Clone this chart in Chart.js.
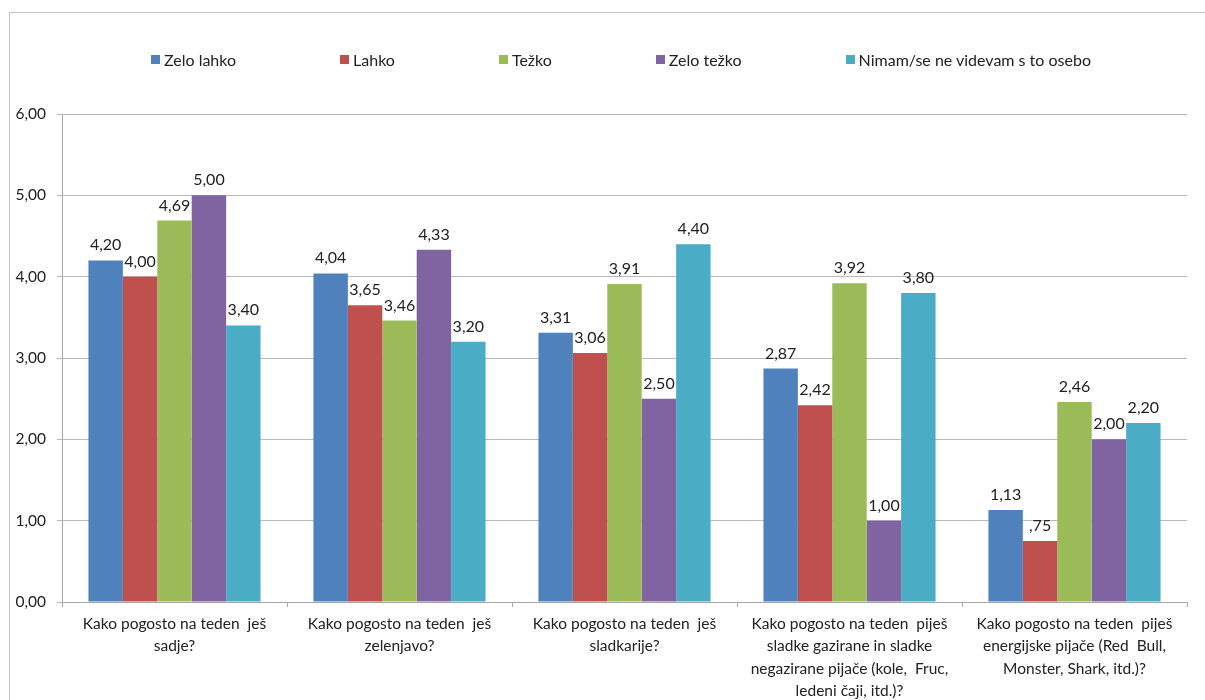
<!DOCTYPE html>
<html lang="sl">
<head>
<meta charset="utf-8">
<title>Kako pogosto na teden</title>
<script src="https://cdn.jsdelivr.net/npm/chart.js@4.4.1"></script>
<style>
  html, body { margin: 0; padding: 0; background: #fff; overflow: hidden; }
  #wrap { position: relative; width: 1205px; height: 700px; overflow: hidden; }
  #frame {
    position: absolute; left: 9px; top: 12px; width: 1300px; height: 800px;
    border: 1px solid #c4c4c4; box-sizing: border-box;
  }
  #chart { position: absolute; left: 0; top: 0; }
  #legend {
    position: absolute; left: 151px; top: 50px;
    display: flex; gap: 104px; margin: 0; padding: 0; list-style: none;
    font-family: Lato, 'Noto Sans', sans-serif; font-size: 16px; color: #222;
  }
  #legend li { display: flex; align-items: center; white-space: pre; }
  #legend .box { width: 9px; height: 9px; margin-right: 4px; }
</style>
</head>
<body>
<div id="wrap">
  <div id="frame"></div>
  <canvas id="chart" width="1205" height="700"></canvas>
  <ul id="legend"></ul>
</div>
<script>
  'use strict';

  // questions on the x axis (one array per wrapped label)
  var categories = [
    ['Kako pogosto na teden  ješ', 'sadje?'],
    ['Kako pogosto na teden  ješ', 'zelenjavo?'],
    ['Kako pogosto na teden  ješ', 'sladkarije?'],
    ['Kako pogosto na teden  piješ', 'sladke gazirane in sladke', 'negazirane pijače (kole,  Fruc,', 'ledeni čaji, itd.)?'],
    ['Kako pogosto na teden  piješ', 'energijske pijače (Red  Bull,', 'Monster, Shark, itd.)?']
  ];

  var seriesNames = ['Zelo lahko', 'Lahko', 'Težko', 'Zelo težko', 'Nimam/se ne videvam s to osebo'];

  var zeloLahko = [4.20, 4.04, 3.31, 2.87, 1.13];
  var lahko     = [4.00, 3.65, 3.06, 2.42, 0.75];
  var tezko     = [4.69, 3.46, 3.91, 3.92, 2.46];
  var zeloTezko = [5.00, 4.33, 2.50, 1.00, 2.00];
  var nimam     = [3.40, 3.20, 4.40, 3.80, 2.20];

  var yTicks = [0, 1, 2, 3, 4, 5, 6];

  var COLORS = ['#4F81BD', '#C0504D', '#9BBB59', '#8064A2', '#4BACC6'];
  var FONT = "Lato, 'Noto Sans', sans-serif";
  var TEXT = '#222';

  function fmtAxis(v) {
    return Number(v).toFixed(2).replace('.', ',');
  }

  // SPSS style: values below one lose the leading zero (",75")
  function fmtValue(v) {
    var s = fmtAxis(v);
    return v < 1 && v > 0 ? s.replace(/^0/, '') : s;
  }

  var valueLabels = {
    id: 'valueLabels',
    afterDatasetsDraw: function (chart) {
      var ctx = chart.ctx;
      ctx.save();
      ctx.font = '16px ' + FONT;
      ctx.fillStyle = TEXT;
      ctx.textAlign = 'center';
      ctx.textBaseline = 'alphabetic';
      chart.data.datasets.forEach(function (ds, i) {
        chart.getDatasetMeta(i).data.forEach(function (bar, j) {
          ctx.fillText(fmtValue(ds.data[j]), bar.x, bar.y - 10);
        });
      });
      ctx.restore();
    }
  };

  var htmlLegend = {
    id: 'htmlLegend',
    afterUpdate: function (chart) {
      var ul = document.getElementById('legend');
      ul.innerHTML = '';
      chart.options.plugins.legend.labels.generateLabels(chart).forEach(function (item) {
        var li = document.createElement('li');
        var box = document.createElement('span');
        box.className = 'box';
        box.style.background = item.fillStyle;
        li.appendChild(box);
        li.appendChild(document.createTextNode(item.text));
        ul.appendChild(li);
      });
    }
  };

  var series = [zeloLahko, lahko, tezko, zeloTezko, nimam];

  new Chart(document.getElementById('chart'), {
    type: 'bar',
    data: {
      labels: categories,
      datasets: series.map(function (values, i) {
        return {
          label: seriesNames[i],
          data: values,
          backgroundColor: COLORS[i],
          borderWidth: 0,
          categoryPercentage: 0.765,
          barPercentage: 1.0
        };
      })
    },
    options: {
      responsive: false,
      animation: false,
      layout: { padding: { top: 114, left: 9, right: 18, bottom: 0 } },
      plugins: {
        legend: { display: false },
        tooltip: { enabled: false }
      },
      scales: {
        x: {
          afterFit: function (scale) { scale.height = 98; },
          grid: {
            offset: true,
            drawOnChartArea: false,
            tickLength: 5,
            color: '#a6a6a6'
          },
          border: { color: '#a6a6a6' },
          ticks: {
            color: TEXT,
            padding: 6,
            maxRotation: 0,
            autoSkip: false,
            font: { family: FONT, size: 15.5, lineHeight: 1.44 }
          }
        },
        y: {
          min: 0,
          max: 6,
          afterFit: function (scale) { scale.width = 53; },
          afterBuildTicks: function (scale) {
            scale.ticks = yTicks.map(function (v) { return { value: v }; });
          },
          grid: { color: '#b9b9b9', tickLength: 5 },
          border: { color: '#a6a6a6' },
          ticks: {
            color: TEXT,
            padding: 11,
            callback: fmtAxis,
            font: { family: FONT, size: 15.5 }
          }
        }
      }
    },
    plugins: [valueLabels, htmlLegend]
  });
</script>
</body>
</html>
